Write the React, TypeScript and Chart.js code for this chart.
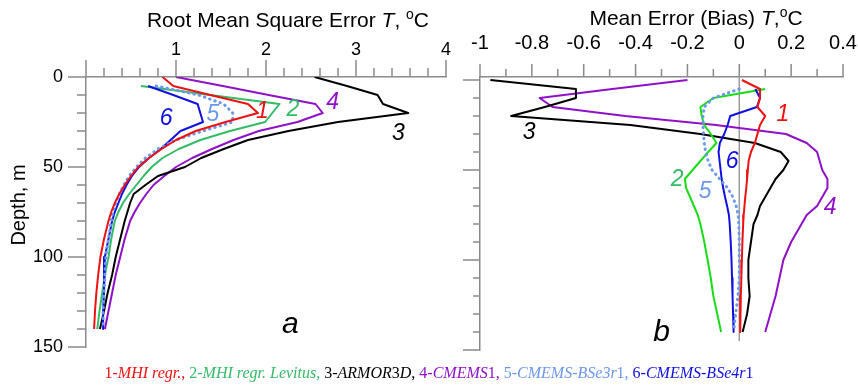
import React, { useEffect, useRef } from 'react';
import { Chart, registerables } from 'chart.js';
Chart.register(...registerables);

// ---------- data ----------
const depths = [0, 5, 10, 15, 20, 25, 30, 35, 40, 45, 50, 55, 60, 65, 70, 75, 80, 90, 100, 110, 120, 130, 140];

// (a) Root mean square error, degC
const rmseMhi = [0.85, 0.97, 1.38, 1.8, 1.91, 1.55, 1.22, 1.0, 0.84, 0.7, 0.58, 0.5, 0.43, 0.37, 0.32, 0.28, 0.25, 0.2, 0.16, 0.135, 0.115, 0.1, 0.09];
const rmseLevitus = [null, 0.61, 1.38, 2.15, 2.07, 1.99, 1.6, 1.27, 1.03, 0.85, 0.73, 0.64, 0.56, 0.48, 0.41, 0.36, 0.32, 0.28, 0.25, 0.21, 0.18, 0.15, 0.125];
const rmseArmor = [2.54, 2.9, 3.24, 3.3, 3.58, 2.8, 2.25, 1.8, 1.53, 1.28, 1.1, 0.8, 0.66, 0.53, 0.49, 0.46, 0.43, 0.38, 0.33, 0.29, 0.24, 0.2, 0.155];
const rmseCmems = [1.0, 1.52, 2.03, 2.55, 2.63, 2.35, 1.92, 1.64, 1.4, 1.18, 1.0, 0.87, 0.75, 0.67, 0.6, 0.54, 0.49, 0.43, 0.38, 0.33, 0.29, 0.25, 0.21];
const rmseBSe3 = [null, 0.78, 1.25, 1.53, 1.63, 1.63, 1.3, 1.0, 0.8, 0.66, 0.56, 0.48, 0.42, 0.37, 0.33, 0.3, 0.28, 0.25, 0.22, 0.21, 0.2, 0.19, 0.19];
const rmseBSe4 = [null, 0.69, 0.97, 1.24, 1.27, 1.3, 1.05, 0.94, 0.83, 0.7, 0.59, 0.51, 0.45, 0.4, 0.36, 0.32, 0.29, 0.25, 0.21, 0.2, 0.2, 0.19, 0.19];

// (b) Mean error (bias), degC
const biasMhi = [0.01, 0.08, 0.08, 0.07, 0.1, 0.08, 0.07, 0.06, 0.045, 0.036, 0.033, 0.03, 0.027, 0.023, 0.02, 0.017, 0.015, 0.012, 0.01, 0.008, 0.006, 0.004, 0.003];
const biasLevitus = [null, 0.1, -0.1, -0.15, -0.145, -0.135, -0.11, -0.088, -0.12, -0.15, -0.18, -0.21, -0.205, -0.19, -0.175, -0.16, -0.15, -0.135, -0.122, -0.11, -0.1, -0.085, -0.07];
const biasArmor = [-0.96, -0.63, -0.63, -0.75, -0.88, -0.42, -0.15, 0.06, 0.16, 0.19, 0.17, 0.14, 0.12, 0.1, 0.08, 0.07, 0.055, 0.045, 0.035, 0.035, 0.04, 0.03, 0.013];
const biasCmems = [-0.2, -0.49, -0.77, -0.72, -0.44, -0.09, 0.18, 0.26, 0.3, 0.31, 0.32, 0.34, 0.34, 0.32, 0.3, 0.26, 0.24, 0.2, 0.17, 0.155, 0.14, 0.12, 0.1];
const biasBSe3 = [null, 0.0, -0.1, -0.135, -0.14, -0.14, -0.138, -0.135, -0.13, -0.12, -0.105, -0.075, -0.045, -0.025, -0.012, -0.004, -0.002, 0, 0, 0, -0.005, -0.014, -0.022];
const biasBSe4 = [null, 0.062, 0.08, 0.068, -0.035, -0.045, -0.058, -0.075, -0.08, -0.076, -0.072, -0.068, -0.062, -0.055, -0.047, -0.04, -0.037, -0.033, -0.03, -0.028, -0.026, -0.024, -0.022];
const zeroLineDepths = [-1.667, 145];

// axis ticks
const rmseTickValues = [1, 2, 3, 4];
const rmseTickLabels = ['1', '2', '3', '4'];
const rmseMajor = [0, 1, 2, 3, 4];
const rmseMinor = [0.2, 0.4, 0.6, 0.8, 1.2, 1.4, 1.6, 1.8, 2.2, 2.4, 2.6, 2.8, 3.2, 3.4, 3.6, 3.8];
const biasTickValues = [-1, -0.8, -0.6, -0.4, -0.2, 0, 0.2, 0.4];
const biasTickLabels = ['-1', '-0.8', '-0.6', '-0.4', '-0.2', '0', '0.2', '0.4'];
const biasMinor = [-0.9, -0.7, -0.5, -0.3, -0.1, 0.1, 0.3];
const depthTickValues = [0, 50, 100, 150];
const depthTickLabels = ['0', '50', '100', '150'];
const depthMinor = [10, 20, 30, 40, 60, 70, 80, 90, 110, 120, 130, 140];

// curve annotations (data coordinates)
const rmseNoteText = ['1', '2', '3', '4', '5', '6', 'a'];
const rmseNoteX = [1.96, 2.3, 3.47, 2.74, 1.41, 0.89, 2.27];
const rmseNoteY = [19.4, 18.3, 31.7, 14.4, 21.1, 23.3, 137.5];
const biasNoteText = ['1', '2', '3', '4', '5', '6', 'b'];
const biasNoteX = [0.168, -0.24, -0.81, 0.35, -0.132, -0.028, -0.3];
const biasNoteY = [19.4, 55.6, 29.4, 71, 62.2, 45.6, 140.3];

// ---------- styles ----------
const RED = '#ee1111';
const GREEN_A = '#33bb66';
const GREEN_B = '#18dd18';
const BLACK = '#000000';
const PURPLE = '#9010c8';
const LIGHTBLUE = '#6b98ea';
const BLUE = '#1010e0';
const AXIS = '#8a8a8a';
const SANS = '"Liberation Sans", Arial, sans-serif';

const rmseNoteColor = [RED, GREEN_A, BLACK, PURPLE, LIGHTBLUE, BLUE, BLACK];
const biasNoteColor = [RED, GREEN_A, BLACK, PURPLE, LIGHTBLUE, BLUE, BLACK];

function pts(vals: (number | null)[]) {
  return depths
    .map((d, i) => ({ x: vals[i] as number, y: d }))
    .filter((p) => p.x !== null && p.x !== undefined);
}

function ds(vals: (number | null)[], color: string, dotted = false) {
  return {
    data: pts(vals),
    borderColor: color,
    backgroundColor: color,
    borderWidth: dotted ? 3 : 2,
    borderDash: dotted ? [0.5, 5] : [],
    borderCapStyle: dotted ? 'round' : 'butt',
    borderJoinStyle: 'round',
    pointRadius: 0,
    showLine: true,
    tension: 0,
    fill: false,
  };
}

const decorPlugin = {
  id: 'decor',
  afterDraw(chart: any, _args: any, opts: any) {
    const { ctx, chartArea } = chart;
    const xs = chart.scales.x;
    const ys = chart.scales.y;
    ctx.save();
    ctx.strokeStyle = AXIS;
    ctx.lineWidth = 1.5;
    ctx.beginPath();
    for (const v of opts.xMajor) {
      const px = xs.getPixelForValue(v);
      ctx.moveTo(px, chartArea.top);
      ctx.lineTo(px, chartArea.top - opts.xMajorLen);
    }
    for (const v of opts.xMinor) {
      const px = xs.getPixelForValue(v);
      ctx.moveTo(px, chartArea.top);
      ctx.lineTo(px, chartArea.top - opts.xMinorLen);
    }
    for (const v of opts.yMajor) {
      const py = ys.getPixelForValue(v);
      ctx.moveTo(chartArea.left, py);
      ctx.lineTo(chartArea.left - opts.yMajorLen, py);
    }
    for (const v of opts.yMinor) {
      const py = ys.getPixelForValue(v);
      ctx.moveTo(chartArea.left, py);
      ctx.lineTo(chartArea.left - opts.yMinorLen, py);
    }
    ctx.stroke();
    ctx.textAlign = 'center';
    ctx.textBaseline = 'middle';
    opts.noteText.forEach((t: string, i: number) => {
      const big = i === opts.noteText.length - 1;
      ctx.font = `italic ${big ? 30 : 23}px ${SANS}`;
      ctx.fillStyle = opts.noteColor[i];
      ctx.fillText(t, xs.getPixelForValue(opts.noteX[i]), ys.getPixelForValue(opts.noteY[i]));
    });
    ctx.restore();
  },
};

function axisX(min: number, max: number, values: number[], labels: string[], size: number, pad: number) {
  return {
    type: 'linear',
    position: 'top',
    min,
    max,
    afterBuildTicks: (s: any) => {
      s.ticks = values.map((v) => ({ value: v }));
    },
    afterFit: (s: any) => {
      s.height = 77;
      s.paddingLeft = 0;
      s.paddingRight = 0;
    },
    ticks: {
      autoSkip: false,
      maxRotation: 0,
      padding: pad,
      color: '#000',
      font: { family: SANS, size },
      callback: (_v: any, i: number) => labels[i],
    },
    grid: { display: false, drawTicks: false },
    border: { display: true, color: AXIS, width: 1.5 },
  };
}

function axisY(min: number, width: number, showLabels: boolean) {
  return {
    type: 'linear',
    position: 'left',
    reverse: true,
    min,
    max: 150,
    afterBuildTicks: (s: any) => {
      s.ticks = depthTickValues.map((v) => ({ value: v }));
    },
    afterFit: (s: any) => {
      s.width = width;
      s.paddingTop = 0;
      s.paddingBottom = 0;
    },
    ticks: {
      display: showLabels,
      autoSkip: false,
      padding: 23,
      color: '#000',
      font: { family: SANS, size: 18 },
      callback: (_v: any, i: number) => depthTickLabels[i],
    },
    grid: { display: false, drawTicks: false },
    border: { display: true, color: AXIS, width: 1.5 },
  };
}

function useChart(ref: React.RefObject<HTMLCanvasElement | null>, cfg: () => any) {
  useEffect(() => {
    if (!ref.current) return;
    const c = new Chart(ref.current, cfg());
    return () => c.destroy();
  }, []);
}

export default function App() {
  const leftRef = useRef<HTMLCanvasElement>(null);
  const rightRef = useRef<HTMLCanvasElement>(null);

  useChart(leftRef, () => ({
    type: 'scatter',
    data: {
      datasets: [
        ds(rmseMhi, RED),
        ds(rmseBSe3, LIGHTBLUE, true),
        ds(rmseBSe4, BLUE),
        ds(rmseLevitus, GREEN_A),
        ds(rmseArmor, BLACK),
        ds(rmseCmems, PURPLE),
      ],
    },
    options: {
      animation: false,
      responsive: false,
      events: [],
      layout: { padding: { left: 0, top: 0, right: 412, bottom: 43 } },
      plugins: {
        legend: { display: false },
        tooltip: { enabled: false },
        decor: {
          xMajor: rmseMajor, xMinor: rmseMinor, xMajorLen: 17, xMinorLen: 9,
          yMajor: depthTickValues, yMinor: depthMinor, yMajorLen: 18, yMinorLen: 9,
          noteText: rmseNoteText, noteX: rmseNoteX, noteY: rmseNoteY, noteColor: rmseNoteColor,
        },
      },
      scales: {
        x: axisX(0, 4, rmseTickValues, rmseTickLabels, 18, 16),
        y: axisY(0, 86, true),
      },
    },
    plugins: [decorPlugin],
  }));

  useChart(rightRef, () => ({
    type: 'scatter',
    data: {
      datasets: [
        ds(biasMhi, RED),
        ds(biasBSe3, LIGHTBLUE, true),
        ds(biasBSe4, BLUE),
        ds(biasLevitus, GREEN_B),
        ds(biasArmor, BLACK),
        ds(biasCmems, PURPLE),
        {
          data: zeroLineDepths.map((d) => ({ x: 0, y: d })),
          borderColor: '#9a9a9a',
          borderWidth: 1.5,
          pointRadius: 0,
          showLine: true,
        },
      ],
    },
    options: {
      animation: false,
      responsive: false,
      events: [],
      layout: { padding: { left: 0, top: 0, right: 15, bottom: 40 } },
      plugins: {
        legend: { display: false },
        tooltip: { enabled: false },
        decor: {
          xMajor: biasTickValues, xMinor: biasMinor, xMajorLen: 13, xMinorLen: 8,
          yMajor: depthTickValues, yMinor: depthMinor, yMajorLen: 17, yMinorLen: 7,
          noteText: biasNoteText, noteX: biasNoteX, noteY: biasNoteY, noteColor: biasNoteColor,
        },
      },
      scales: {
        x: axisX(-1, 0.4, biasTickValues, biasTickLabels, 20, 22),
        y: axisY(-1.667, 480, false),
      },
    },
    plugins: [decorPlugin],
  }));

  const abs: React.CSSProperties = { position: 'absolute', left: 0, top: 0 };
  const sup: React.CSSProperties = { fontSize: 14, position: 'relative', top: -8 };

  return (
    <div style={{ position: 'fixed', left: 0, top: 0, width: 858, height: 390, background: '#fff', overflow: 'hidden' }}>
      <canvas ref={leftRef} width={858} height={390} style={{ ...abs, width: 858, height: 390 }} />
      <canvas ref={rightRef} width={858} height={390} style={{ ...abs, width: 858, height: 390 }} />
      <div style={{ position: 'absolute', left: 0, width: 576, top: 8, lineHeight: '24px', textAlign: 'center', fontFamily: SANS, fontSize: 21, whiteSpace: 'nowrap' }}>
        Root Mean Square Error <i>T</i>, <span style={sup}>o</span>C
      </div>
      <div style={{ position: 'absolute', left: 496, width: 400, top: 6, lineHeight: '24px', textAlign: 'center', fontFamily: SANS, fontSize: 21, whiteSpace: 'nowrap' }}>
        Mean Error (Bias) <i>T</i>,<span style={sup}>o</span>C
      </div>
      <div style={{ position: 'absolute', left: 18 - 60, width: 120, top: 205 - 12, lineHeight: '24px', textAlign: 'center', fontFamily: SANS, fontSize: 20, transform: 'rotate(-90deg)', whiteSpace: 'nowrap' }}>
        Depth, m
      </div>
      <div style={{ position: 'absolute', left: 0, width: 858, top: 363, lineHeight: '20px', textAlign: 'center', fontFamily: '"Liberation Serif", "Times New Roman", serif', fontSize: 16, whiteSpace: 'nowrap' }}>
        <span style={{ color: RED }}>1-<i>MHI regr.</i>,</span>{' '}
        <span style={{ color: GREEN_A }}>2-<i>MHI regr. Levitus</i>,</span>{' '}
        <span style={{ color: BLACK }}>3-<i>ARMOR</i>3<i>D</i>,</span>{' '}
        <span style={{ color: PURPLE }}>4-<i>CMEMS</i>1,</span>{' '}
        <span style={{ color: LIGHTBLUE }}>5-<i>CMEMS-BSe3r</i>1,</span>{' '}
        <span style={{ color: BLUE }}>6-<i>CMEMS-BSe4r</i>1</span>
      </div>
    </div>
  );
}
